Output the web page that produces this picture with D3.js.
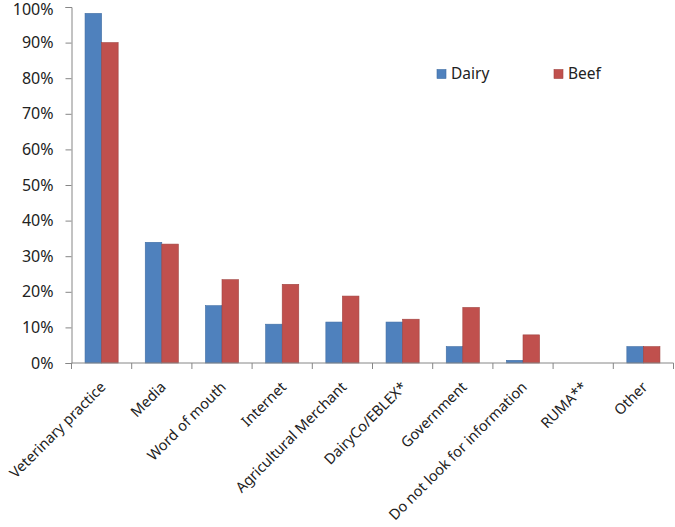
<!DOCTYPE html>
<html>
<head>
<meta charset="utf-8">
<script src="https://cdn.jsdelivr.net/npm/d3@7"></script>
<style>
  body { margin: 0; background: #fff; }
  text { font-family: "Noto Sans", sans-serif; fill: #222; }
</style>
</head>
<body>
<div id="chart"></div>
<script>
// --- Data ---
const categories = ["Veterinary practice", "Media", "Word of mouth", "Internet", "Agricultural Merchant",
  "DairyCo/EBLEX*", "Government", "Do not look for information", "RUMA**", "Other"];
const seriesNames = ["Dairy", "Beef"];
const dairy = [98.2, 33.9, 16.1, 10.9, 11.5, 11.5, 4.6, 0.75, 0, 4.6];
const beef = [90.0, 33.4, 23.4, 22.1, 18.8, 12.3, 15.6, 7.9, 0, 4.6];
const yTicks = [0, 10, 20, 30, 40, 50, 60, 70, 80, 90, 100];
const colors = ["#4F81BD", "#C0504D"];
const strokes = ["#3F6DA3", "#A04340"];

const width = 675, height = 527;
const margin = { top: 7, right: 1.5, bottom: 164, left: 71.5 };

const svg = d3.select("#chart").append("svg")
  .attr("width", width)
  .attr("height", height);

const x0 = d3.scaleBand()
  .domain(categories)
  .range([margin.left, width - margin.right])
  .paddingInner(0.45)
  .paddingOuter(0.225);

const x1 = d3.scaleBand()
  .domain(seriesNames)
  .range([0, x0.bandwidth()]);

const y = d3.scaleLinear()
  .domain([0, 100])
  .range([height - margin.bottom, margin.top]);

const axisColor = "#868686";

// y axis
const yAxis = svg.append("g")
  .attr("transform", `translate(${margin.left},0)`)
  .call(d3.axisLeft(y).tickValues(yTicks).tickSize(6).tickPadding(12).tickFormat(d => d + "%"));
yAxis.select(".domain").attr("stroke", axisColor);
yAxis.selectAll(".tick line").attr("stroke", axisColor);
yAxis.selectAll("text").style("font-size", "16px").attr("fill", "#222");
yAxis.selectAll(".tick").filter(d => d === 100).select("text").attr("dy", "0.48em");

// bars
const data = categories.map((c, i) => ({ cat: c, vals: [dairy[i], beef[i]] }));
const groups = svg.append("g").selectAll("g")
  .data(data)
  .join("g")
  .attr("transform", d => `translate(${x0(d.cat)},0)`);

groups.selectAll("rect")
  .data(d => d.vals.map((v, j) => ({ key: seriesNames[j], v, j })).filter(e => e.v > 0))
  .join("rect")
  .attr("x", d => x1(d.key))
  .attr("width", x1.bandwidth())
  .attr("y", d => y(d.v))
  .attr("height", d => y(0) - y(d.v))
  .attr("fill", d => colors[d.j])
  .attr("stroke", d => strokes[d.j])
  .attr("stroke-width", 0.6);

// x axis with ticks at category boundaries
const step = x0.step();
const x0Start = x0.range()[0];
const boundaries = d3.range(categories.length + 1).map(i => x0Start + i * step);
const xAxisG = svg.append("g");
xAxisG.append("line")
  .attr("x1", margin.left).attr("x2", width - margin.right)
  .attr("y1", y(0)).attr("y2", y(0))
  .attr("stroke", axisColor);
xAxisG.selectAll(".bt")
  .data(boundaries)
  .join("line")
  .attr("class", "bt")
  .attr("x1", d => d).attr("x2", d => d)
  .attr("y1", y(0)).attr("y2", y(0) + 6)
  .attr("stroke", axisColor);

xAxisG.selectAll(".xl")
  .data(categories)
  .join("text")
  .attr("class", "xl")
  .attr("text-anchor", "end")
  .style("font-size", "14.6px")
  .attr("transform", d => `translate(${x0(d) + x0.bandwidth() / 2 + 5},${y(0) + 25}) rotate(-45)`)
  .text(d => d);

// legend
const legend = svg.append("g");
const legendX = [437, 554];
seriesNames.forEach((s, i) => {
  legend.append("rect")
    .attr("x", legendX[i]).attr("y", 69.5)
    .attr("width", 9).attr("height", 9)
    .attr("fill", colors[i])
    .attr("stroke", strokes[i]).attr("stroke-width", 0.6);
  legend.append("text")
    .attr("x", legendX[i] + 14).attr("y", 79)
    .style("font-size", "15.5px")
    .text(s);
});
</script>
</body>
</html>
